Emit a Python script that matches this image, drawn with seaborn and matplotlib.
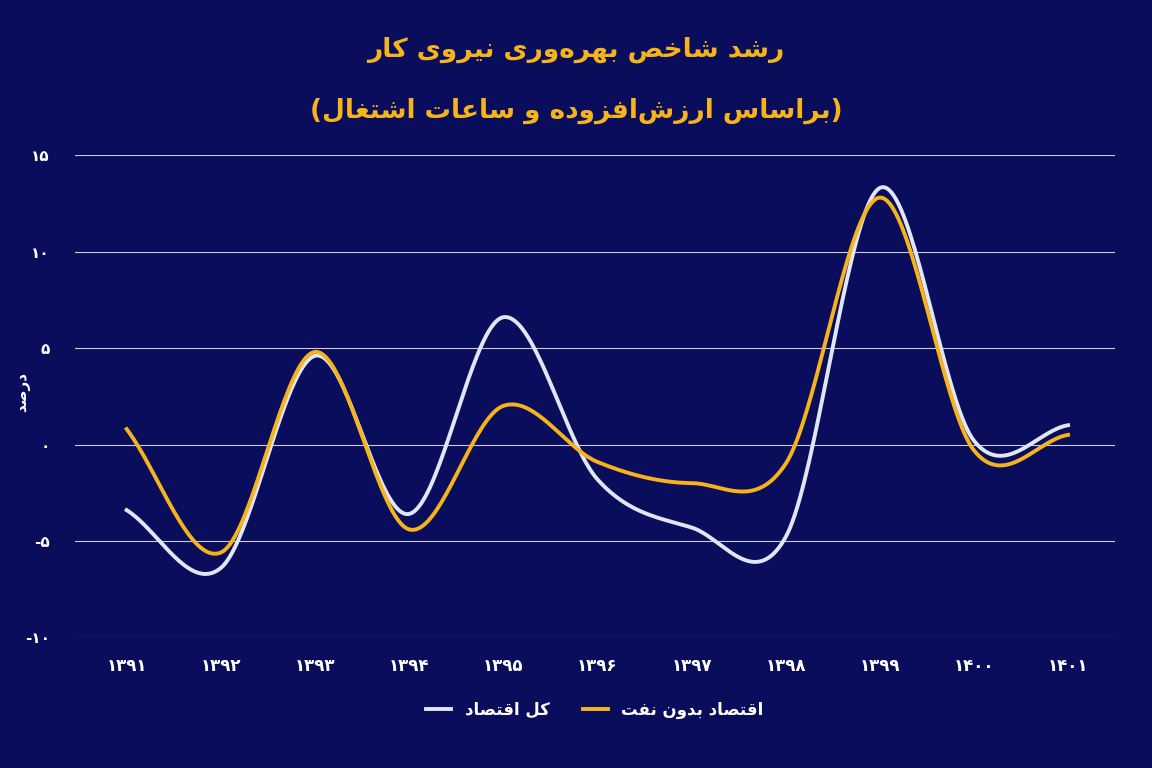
import numpy as np
import pandas as pd
import seaborn as sns
import matplotlib
matplotlib.use("Agg")
import matplotlib.pyplot as plt

years = ["۱۳۹۱", "۱۳۹۲", "۱۳۹۳", "۱۳۹۴", "۱۳۹۵", "۱۳۹۶", "۱۳۹۷", "۱۳۹۸", "۱۳۹۹", "۱۴۰۰", "۱۴۰۱"]
total_economy = [-3.4, -6.4, 4.6, -3.6, 6.6, -1.8, -4.3, -4.8, 13.3, 0.2, 1.0]
non_oil = [0.8, -5.6, 4.8, -4.4, 2.0, -0.9, -2.0, -1.0, 12.8, -0.3, 0.5]
yticks = [-10, -5, 0, 5, 10, 15]
ytick_labels = ["-۱۰", "-۵", "۰", "۵", "۱۰", "۱۵"]
title1 = "رشد شاخص بهره\u200cوری نیروی کار"
title2 = "(براساس ارزش\u200cافزوده و ساعات اشتغال)"
ylabel = "درصد"
name_total = "کل اقتصاد"
name_nonoil = "اقتصاد بدون نفت"

FORMS = {
    "ا": ("\uFE8D", "\uFE8E", None, None), "ب": ("\uFE8F", "\uFE90", "\uFE91", "\uFE92"),
    "ت": ("\uFE95", "\uFE96", "\uFE97", "\uFE98"), "خ": ("\uFEA5", "\uFEA6", "\uFEA7", "\uFEA8"),
    "د": ("\uFEA9", "\uFEAA", None, None), "ر": ("\uFEAD", "\uFEAE", None, None),
    "ز": ("\uFEAF", "\uFEB0", None, None), "س": ("\uFEB1", "\uFEB2", "\uFEB3", "\uFEB4"),
    "ش": ("\uFEB5", "\uFEB6", "\uFEB7", "\uFEB8"), "ص": ("\uFEB9", "\uFEBA", "\uFEBB", "\uFEBC"),
    "ع": ("\uFEC9", "\uFECA", "\uFECB", "\uFECC"), "غ": ("\uFECD", "\uFECE", "\uFECF", "\uFED0"),
    "ف": ("\uFED1", "\uFED2", "\uFED3", "\uFED4"), "ق": ("\uFED5", "\uFED6", "\uFED7", "\uFED8"),
    "ل": ("\uFEDD", "\uFEDE", "\uFEDF", "\uFEE0"), "م": ("\uFEE1", "\uFEE2", "\uFEE3", "\uFEE4"),
    "ن": ("\uFEE5", "\uFEE6", "\uFEE7", "\uFEE8"), "ه": ("\uFEE9", "\uFEEA", "\uFEEB", "\uFEEC"),
    "و": ("\uFEED", "\uFEEE", None, None), "ک": ("\uFB8E", "\uFB8F", "\uFB90", "\uFB91"),
    "ی": ("\uFBFC", "\uFBFD", "\uFBFE", "\uFBFF"),
}

def shape(s):
    chars = list(s)
    out = []
    for i, c in enumerate(chars):
        if c == "\u200c":
            continue
        if c not in FORMS:
            out.append(c)
            continue
        prev = chars[i - 1] if i > 0 else None
        nxt = chars[i + 1] if i + 1 < len(chars) else None
        jp = prev in FORMS and FORMS[prev][2] is not None
        jn = nxt in FORMS and FORMS[c][2] is not None
        iso, fin, ini, med = FORMS[c]
        if jp and jn:
            out.append(med)
        elif jp:
            out.append(fin)
        elif jn:
            out.append(ini)
        else:
            out.append(iso)
    r = "".join(out)[::-1]
    return r.translate(str.maketrans("()", ")("))

def smooth(y, per=40):
    # Catmull-Rom (Excel-style smoothed line) through the data points
    y = np.asarray(y, float); n = len(y)
    m = np.zeros(n)
    m[1:-1] = (y[2:] - y[:-2]) / 2
    m[0] = y[1] - y[0]; m[-1] = y[-1] - y[-2]
    xs, ys = [], []
    for i in range(n - 1):
        t = np.linspace(0, 1, per, endpoint=(i == n - 2))
        h00 = 2*t**3 - 3*t**2 + 1; h10 = t**3 - 2*t**2 + t
        h01 = -2*t**3 + 3*t**2; h11 = t**3 - t**2
        xs.append(i + t)
        ys.append(h00*y[i] + h10*m[i] + h01*y[i+1] + h11*m[i+1])
    return np.concatenate(xs), np.concatenate(ys)

BG = "#0a0c5c"
GOLD = "#f5b41c"
WHITE = "#dfe6f5"
plt.rcParams["font.family"] = "DejaVu Sans"
plt.rcParams["font.weight"] = "bold"

fig = plt.figure(figsize=(11.52, 7.68), dpi=100, facecolor=BG)
ax = fig.add_axes([0.065, 0.17, 0.903, 0.628], facecolor=BG)

idx = np.arange(len(years))
frames = []
for name, vals in [(shape(name_total), total_economy), (shape(name_nonoil), non_oil)]:
    xs, ys = smooth(vals)
    frames.append(pd.DataFrame({"x": xs, "y": ys, "s": name}))
df = pd.concat(frames)
sns.lineplot(data=df, x="x", y="y", hue="s", palette=[WHITE, GOLD], linewidth=2.8, ax=ax, sort=False)

ax.set_xlim(-0.55, 10.5)
ax.set_ylim(-10, 15)
ax.set_yticks(yticks)
ax.set_yticklabels(ytick_labels, color="white", fontsize=11)
ax.set_xticks(idx)
ax.set_xticklabels(years, color="white", fontsize=12)
ax.tick_params(length=0)
ax.tick_params(axis="x", pad=14)
ax.tick_params(axis="y", pad=18)
ax.grid(axis="y", color="#c8cce0", linewidth=0.8)
ax.grid(axis="x", visible=False)
ax.set_axisbelow(True)
for s in ax.spines.values():
    s.set_visible(False)
ax.set_xlabel("")
ax.set_ylabel("")
fig.text(0.02, 0.49, shape(ylabel), color="white", fontsize=11, rotation=90, ha="center", va="center")

fig.text(0.5, 0.935, shape(title1), color=GOLD, fontsize=19, ha="center", va="center", fontweight="bold")
fig.text(0.5, 0.855, shape(title2), color=GOLD, fontsize=19, ha="center", va="center", fontweight="bold")

leg = ax.legend(loc="upper center", bbox_to_anchor=(0.5, -0.1), ncol=2, frameon=False,
                fontsize=12, handlelength=1.5, columnspacing=2.0)
for t in leg.get_texts():
    t.set_color("white")

fig.savefig("out.png", dpi=100, facecolor=BG)
